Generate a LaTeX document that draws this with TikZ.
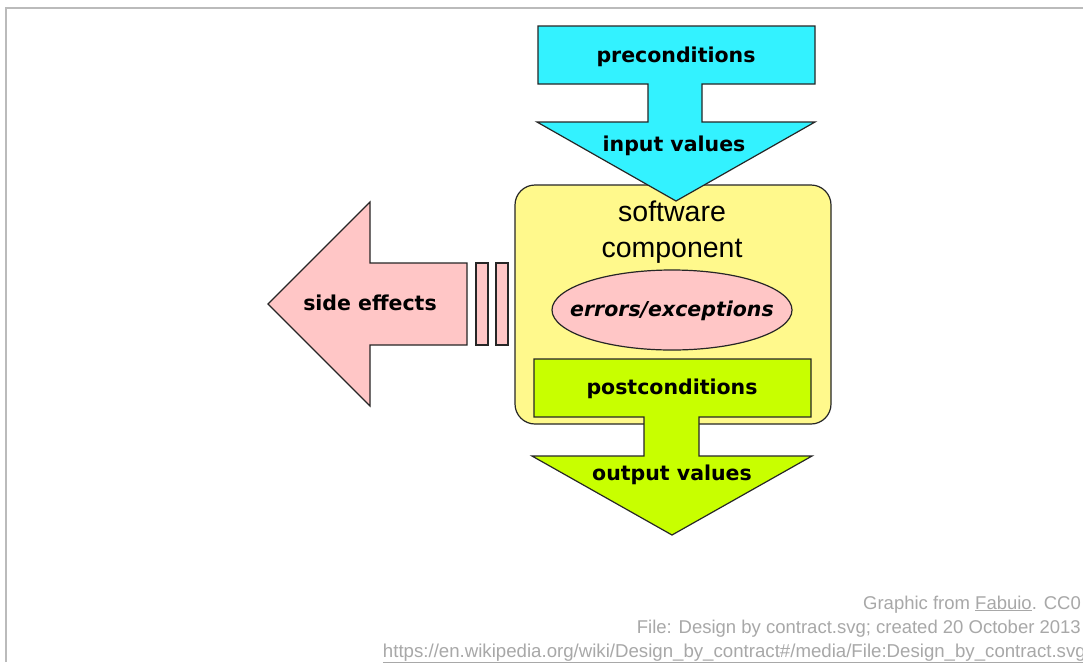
\documentclass[tikz,border=0pt]{standalone}
\usepackage{fontspec}
\setmainfont{Liberation Sans}
\newfontfamily\dvs{DejaVu Sans}
\usetikzlibrary{shapes.geometric}
\definecolor{cyanf}{HTML}{33F2FF}
\definecolor{yellowf}{HTML}{FFF98C}
\definecolor{pinkf}{HTML}{FFC6C6}
\definecolor{limef}{HTML}{C8FF00}
\definecolor{framec}{HTML}{BBBBBB}
\definecolor{creditc}{HTML}{A8A8A8}
\begin{document}
\begin{tikzpicture}[x=1pt,y=-1pt,
  shapeline/.style={draw=black!85,line width=1.2pt,line join=miter},
  boldlabel/.style={font=\dvs\bfseries\fontsize{20.5}{24}\selectfont,inner sep=0pt},
  credit/.style={font=\fontsize{18.5}{22}\selectfont,text=creditc,anchor=base east,inner sep=0pt}]
\useasboundingbox (0,0) rectangle (1083,662);
\fill[white] (0,0) rectangle (1083,662);
% frame
\draw[framec,line width=1.5pt] (6,662) -- (6,8) -- (1083,8);
% side effects arrow
\draw[shapeline,fill=pinkf] (268,304) -- (370,202) -- (370,263) -- (467,263) -- (467,345) -- (370,345) -- (370,406) -- cycle;
\draw[shapeline,fill=pinkf] (476,263) rectangle (488,345);
\draw[shapeline,fill=pinkf] (496,263) rectangle (508,345);
% software component box
\draw[shapeline,fill=yellowf,rounded corners=20pt] (515,185) rectangle (831,424);
% ellipse
\draw[shapeline,fill=pinkf] (672,310) ellipse [x radius=120, y radius=40];
% postconditions arrow
\draw[shapeline,fill=limef] (534,359) -- (811,359) -- (811,417) -- (699,417) -- (699,456) -- (812,456) -- (672,535) -- (532,456) -- (644,456) -- (644,417) -- (534,417) -- cycle;
% preconditions arrow
\draw[shapeline,fill=cyanf] (538,26) -- (815,26) -- (815,84) -- (702,84) -- (702,122) -- (815,122) -- (676,201) -- (537,122) -- (648,122) -- (648,84) -- (538,84) -- cycle;
% labels
\node[boldlabel] (pre) at (676,57) {preconditions};
\node[boldlabel] (inp) at (674,146) {input values};
\node[inner sep=0pt,align=center,font=\fontsize{28.5}{36}\selectfont] (comp) at (672,232) {software\\component};
\node[boldlabel,font=\dvs\bfseries\itshape\fontsize{20.5}{24}\selectfont] (err) at (672,311) {errors/exceptions};
\node[boldlabel] (post) at (672,389) {postconditions};
\node[boldlabel] (out) at (672,475) {output values};
\node[boldlabel] (side) at (370,303) {side effects};
% credits
\node[credit] (c1) at (1081,609) {Graphic from \underline{Fabuio}. CC0};
\node[credit] (c2) at (1081,633) {File: Design by contract.svg; created 20 October 2013};
\node[credit,font=\fontsize{18.65}{22}\selectfont] (c3) at (1086,657) {\underline{https://en.wikipedia.org/wiki/Design\_by\_contract\#/media/File:Design\_by\_contract.svg}};
\end{tikzpicture}
\end{document}
